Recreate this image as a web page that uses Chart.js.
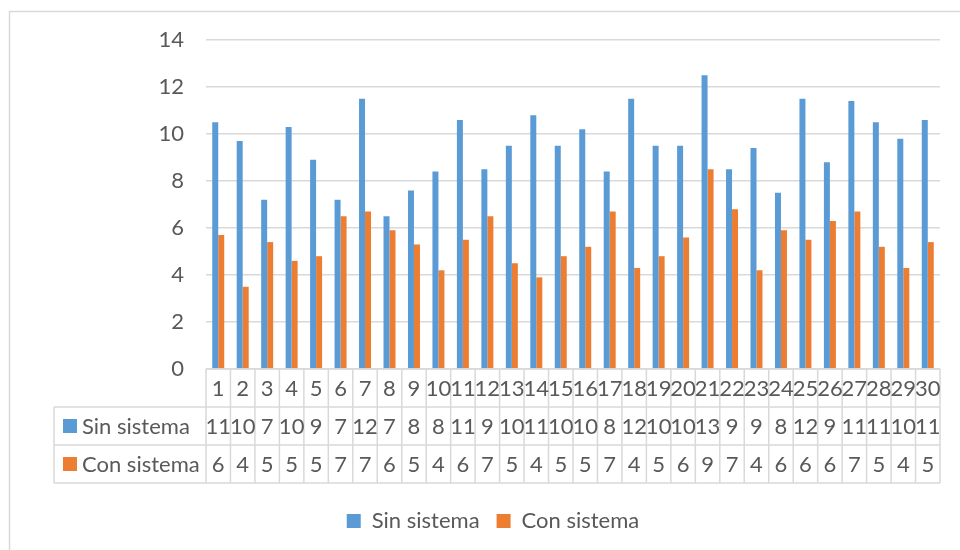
<!DOCTYPE html>
<html>
<head>
<meta charset="utf-8">
<script src="https://cdn.jsdelivr.net/npm/chart.js@4/dist/chart.umd.min.js"></script>
<style>
  html, body { margin: 0; padding: 0; background: #ffffff; }
  #wrap { width: 960px; height: 550px; position: relative; }
</style>
</head>
<body>
<div id="wrap"><canvas id="c" width="960" height="550"></canvas></div>
<script>
// Categories (trial number) and the two measured series
const categories = ['1','2','3','4','5','6','7','8','9','10','11','12','13','14','15',
                    '16','17','18','19','20','21','22','23','24','25','26','27','28','29','30'];
const sinSistema = [10.5, 9.7, 7.2, 10.3, 8.9, 7.2, 11.5, 6.5, 7.6, 8.4,
                    10.6, 8.5, 9.5, 10.8, 9.5, 10.2, 8.4, 11.5, 9.5, 9.5,
                    12.5, 8.5, 9.4, 7.5, 11.5, 8.8, 11.4, 10.5, 9.8, 10.6];
const conSistema = [5.7, 3.5, 5.4, 4.6, 4.8, 6.5, 6.7, 5.9, 5.3, 4.2,
                    5.5, 6.5, 4.5, 3.9, 4.8, 5.2, 6.7, 4.3, 4.8, 5.6,
                    8.5, 6.8, 4.2, 5.9, 5.5, 6.3, 6.7, 5.2, 4.3, 5.4];
const seriesNames = ['Sin sistema', 'Con sistema'];
const yTicks = [0, 2, 4, 6, 8, 10, 12, 14];

const BLUE = '#5b9bd5';
const ORANGE = '#ed7d31';
const TEXT = '#595959';
const LINE = '#d9d9d9';
const FONT = 'Lato, "Open Sans", sans-serif';
const FS = 22;

// Table geometry under the plot
const ROW_H = 38;
const HEAD_LEFT = 54;

// Outer frame of the chart object
const framePlugin = {
  id: 'frame',
  beforeDraw(chart) {
    const ctx = chart.ctx;
    ctx.save();
    ctx.strokeStyle = LINE;
    ctx.lineWidth = 1.5;
    ctx.beginPath();
    ctx.moveTo(9.5, 550);
    ctx.lineTo(9.5, 11.5);
    ctx.lineTo(960, 11.5);
    ctx.stroke();
    ctx.restore();
  }
};

// Data table drawn below the category axis, aligned to the x scale
const tablePlugin = {
  id: 'dataTable',
  afterDraw(chart) {
    const ctx = chart.ctx;
    const x = chart.scales.x;
    const area = chart.chartArea;
    const top = area.bottom;
    const n = chart.data.labels.length;
    const y1 = top + ROW_H, y2 = top + 2 * ROW_H, y3 = top + 3 * ROW_H;

    const bounds = [area.left];
    for (let i = 0; i < n - 1; i++) {
      bounds.push((x.getPixelForTick(i) + x.getPixelForTick(i + 1)) / 2);
    }
    bounds.push(area.right);

    ctx.save();
    ctx.strokeStyle = LINE;
    ctx.lineWidth = 1.5;
    ctx.beginPath();
    ctx.moveTo(area.left, top); ctx.lineTo(area.right, top);
    [y1, y2, y3].forEach(y => { ctx.moveTo(HEAD_LEFT, y); ctx.lineTo(area.right, y); });
    bounds.forEach(bx => { ctx.moveTo(bx, top); ctx.lineTo(bx, y3); });
    ctx.moveTo(HEAD_LEFT, y1); ctx.lineTo(HEAD_LEFT, y3);
    ctx.stroke();

    ctx.fillStyle = TEXT;
    ctx.font = FS + 'px ' + FONT;
    ctx.textAlign = 'center';
    ctx.textBaseline = 'middle';
    for (let i = 0; i < n; i++) {
      const cx = x.getPixelForTick(i);
      ctx.fillText(chart.data.labels[i], cx, top + ROW_H / 2 + 1);
      chart.data.datasets.forEach((ds, k) => {
        ctx.fillText(String(Math.round(ds.data[i])), cx, top + ROW_H * (k + 1.5) + 1);
      });
    }

    ctx.textAlign = 'left';
    chart.data.datasets.forEach((ds, k) => {
      const cy = top + ROW_H * (k + 1.5);
      ctx.fillStyle = ds.backgroundColor;
      ctx.fillRect(HEAD_LEFT + 9, cy - 7, 14, 14);
      ctx.fillStyle = TEXT;
      ctx.fillText(ds.label, HEAD_LEFT + 28, cy + 1);
    });
    ctx.restore();
  }
};

new Chart(document.getElementById('c'), {
  type: 'bar',
  data: {
    labels: categories,
    datasets: [
      { label: seriesNames[0], data: sinSistema, backgroundColor: BLUE },
      { label: seriesNames[1], data: conSistema, backgroundColor: ORANGE }
    ]
  },
  options: {
    responsive: false,
    animation: false,
    layout: { padding: { top: 40, right: 20, bottom: 8, left: 46 } },
    datasets: { bar: { categoryPercentage: 0.49, barPercentage: 1.0 } },
    scales: {
      x: {
        grid: { display: false },
        border: { display: false },
        ticks: { display: false },
        afterFit(scale) { scale.height = 124; }
      },
      y: {
        min: 0,
        max: 14,
        afterBuildTicks(scale) { scale.ticks = yTicks.map(v => ({ value: v })); },
        grid: { color: LINE, lineWidth: 1.5, drawTicks: false },
        border: { display: false },
        ticks: { color: TEXT, font: { family: FONT, size: FS }, padding: 22 },
        afterFit(scale) { scale.width = 160; }
      }
    },
    plugins: {
      legend: {
        position: 'bottom',
        labels: {
          color: TEXT,
          font: { family: FONT, size: FS },
          boxWidth: 14,
          boxHeight: 14,
          padding: 17
        }
      },
      tooltip: { enabled: false }
    }
  },
  plugins: [framePlugin, tablePlugin]
});
</script>
</body>
</html>
